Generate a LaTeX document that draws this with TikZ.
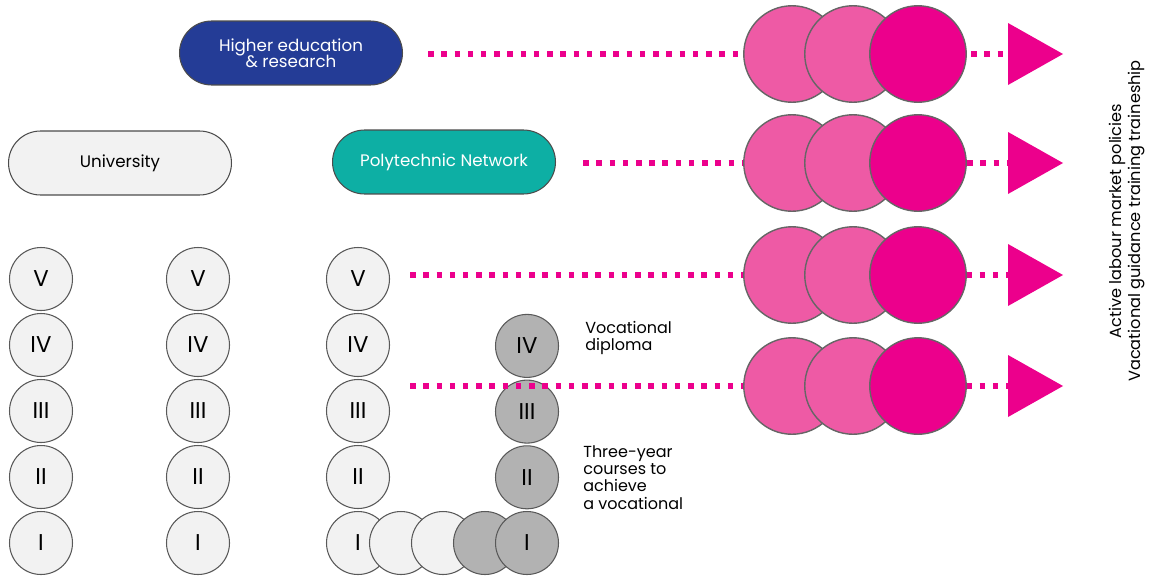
\documentclass[tikz,border=0pt]{standalone}
\usepackage{fontspec}
\setmainfont{Poppins}
\usetikzlibrary{positioning}
\definecolor{hedublue}{HTML}{243C96}
\definecolor{polyteal}{HTML}{0DAFA4}
\definecolor{lightpink}{HTML}{EE5AA5}
\definecolor{mag}{HTML}{EC008C}
\definecolor{paper}{HTML}{F2F2F2}
\definecolor{vocgray}{HTML}{B2B2B2}

\begin{document}
\begin{tikzpicture}[x=0.02cm,y=-0.02cm,
    year/.style={circle,draw=black!65,fill=paper,line width=0.6pt,minimum size=1.26cm,inner sep=0pt,font=\fontsize{13}{14}\selectfont},
    voc/.style={year,fill=vocgray},
    pill/.style={rounded corners=0.64cm,draw=black!70,line width=0.6pt,minimum width=4.46cm,minimum height=1.28cm,align=center,font=\fontsize{9.5}{11}\selectfont},
    outcome/.style={circle,draw=black!60,line width=0.8pt,minimum size=1.93cm,inner sep=0pt,outer sep=0pt,fill=lightpink},
    dots/.style={draw=mag,line width=0.11cm,dash pattern=on 0.11cm off 0.155cm},
    note/.style={align=left,anchor=north west,inner sep=0pt,font=\fontsize{9.1}{9.9}\selectfont}]
  \useasboundingbox (0,0) rectangle (1151,578);

  % pathways
  \node[pill,fill=hedublue,text=white] (hedu) at (291,53) {Higher education\\[-2pt]\& research};
  \node[pill,fill=paper] (uni) at (120,163) {University};
  \node[pill,fill=polyteal,text=white] (poly) at (444,162) {Polytechnic Network};

  % school years
  \foreach \r [count=\i] in {I,II,III,IV,V} {
    \node[year] (a\i) at (41,{543-66*(\i-1)}) {\r};
    \node[year] (b\i) at (198,{543-66*(\i-1)}) {\r};
    \node[year] (c\i) at (358,{543-66*(\i-1)}) {\r};
  }
  \foreach \x [count=\i] in {401,443} \node[year] (e\i) at (\x,543) {};
  \node[voc] (e3) at (485,543) {};
  \foreach \r [count=\i] in {I,II,III,IV}
    \node[voc] (d\i) at (527,{543-65.7*(\i-1)}) {\r};

  \node[note] (dipl) at (585,321) {Vocational\\diploma};
  \node[note] (three) at (583,445) {Three-year\\courses to\\achieve\\a vocational};

  % outcomes
  \coordinate (s1) at (428,54);
  \coordinate (s2) at (583,163);
  \coordinate (s3) at (410,275);
  \coordinate (s4) at (410,386);
  \foreach \y [count=\i] in {54,163,275,386} {
    \coordinate (t\i) at (1008,\y);
    \draw[dots] (s\i) -- (t\i);
    \node[outcome] (p\i) at (792,\y) {};
    \node[outcome,right=-0.71cm of p\i] (q\i) {};
    \node[outcome,fill=mag,right=-0.63cm of q\i] (r\i) {};
    \fill[mag] (t\i) ++(0,-31) -- ++(55,31) -- ++(-55,31) -- cycle;
  }

  \node[rotate=90,align=center,font=\fontsize{9.2}{11.3}\selectfont] (alm) at (1127,221)
    {Active labour market policies\\Vacational guidance training traineship};
\end{tikzpicture}
\end{document}
